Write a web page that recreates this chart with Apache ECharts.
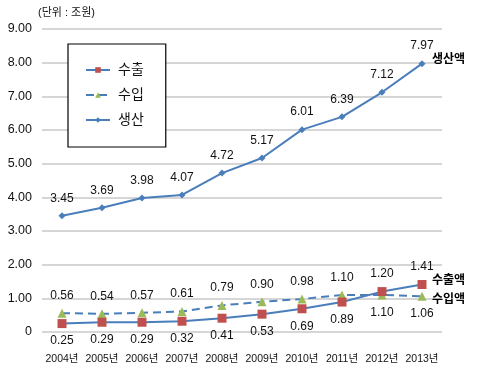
<!DOCTYPE html>
<html><head><meta charset="utf-8">
<script src="https://cdn.jsdelivr.net/npm/echarts@6/dist/echarts.min.js"></script>
<style>html,body{margin:0;padding:0;background:#fff}#c{width:485px;height:379px}</style>
</head><body><div id="c"></div>
<script>
const categories = ['2004년','2005년','2006년','2007년','2008년','2009년','2010년','2011년','2012년','2013년'];
const exportVals = [0.25,0.29,0.29,0.32,0.41,0.53,0.69,0.89,1.20,1.41];
const importVals = [0.56,0.54,0.57,0.61,0.79,0.90,0.98,1.10,1.10,1.06];
const prodVals = [3.45,3.69,3.98,4.07,4.72,5.17,6.01,6.39,7.12,7.97];
const exportAbove = [false,false,false,false,false,false,false,false,true,true];
const importAbove = [true,true,true,true,true,true,true,true,false,false];

const FONT = '"Liberation Sans", Arial, "Noto Sans CJK KR", sans-serif';
const BLUE = '#4A7EBB';
const lbl = {fontFamily: FONT, fontSize: 12, color: '#111'};

function pts(vals, above){
  return vals.map((v,i)=>({value:v, label:{position: above[i] ? 'top' : 'bottom'}}));
}
const chart = echarts.init(document.getElementById('c'));
chart.setOption({
  animation:false,
  textStyle:{fontFamily:FONT},
  grid:{left:42,top:29,width:400,bottom:47},
  graphic:[{type:'text',left:38,top:7,style:{text:'(단위 : 조원)',font:'11px '+FONT,fill:'#111'}}],
  legend:{
    orient:'vertical', left:68, top:44,
    padding:[19,22,20,17], itemGap:11,
    borderColor:'#000', borderWidth:1.2, backgroundColor:'#fff',
    itemWidth:24, itemHeight:7,
    textStyle:{fontFamily:FONT,fontSize:14,color:'#111',padding:[0,0,0,3]},
    data:['수출','수입','생산']
  },
  xAxis:{
    type:'category', data:categories, boundaryGap:true,
    axisLine:{show:false}, axisTick:{show:false},
    axisLabel:{fontFamily:FONT,fontSize:10.5,color:'#111',margin:22,interval:0}
  },
  yAxis:{
    type:'value', min:0, max:9, interval:1,
    axisLine:{show:false}, axisTick:{show:false},
    splitLine:{lineStyle:{color:'#C8C8C8',width:1.5}},
    axisLabel:{fontFamily:FONT,fontSize:12.5,color:'#111',margin:10,
      formatter:v=> v===0 ? '0' : v.toFixed(2)}
  },
  series:[
    {name:'수출',type:'line',data:pts(exportVals,exportAbove),
     lineStyle:{color:BLUE,width:2},symbol:'rect',symbolSize:9,
     itemStyle:{color:'#C0504D'},
     label:{show:true,...lbl,distance:7,formatter:p=>p.value.toFixed(2)},
     endLabel:{show:true,formatter:'수출액',fontFamily:FONT,fontSize:12,fontWeight:'bold',color:'#000',distance:10,offset:[0,-4]},
     z:3},
    {name:'수입',type:'line',data:pts(importVals,importAbove),
     lineStyle:{color:BLUE,width:2,type:[8,5]},symbol:'triangle',symbolSize:9,
     itemStyle:{color:'#9BBB59'},
     label:{show:true,...lbl,distance:7,formatter:p=>p.value.toFixed(2)},
     endLabel:{show:true,formatter:'수입액',fontFamily:FONT,fontSize:12,fontWeight:'bold',color:'#000',distance:10,offset:[0,3]},
     z:2},
    {name:'생산',type:'line',data:prodVals,
     lineStyle:{color:BLUE,width:2},symbol:'diamond',symbolSize:7,
     itemStyle:{color:BLUE},
     label:{show:true,position:'top',...lbl,distance:8,formatter:p=>p.value.toFixed(2)},
     endLabel:{show:true,formatter:'생산액',fontFamily:FONT,fontSize:12,fontWeight:'bold',color:'#000',distance:10,offset:[0,-4]},
     z:4}
  ]
});
</script></body></html>
